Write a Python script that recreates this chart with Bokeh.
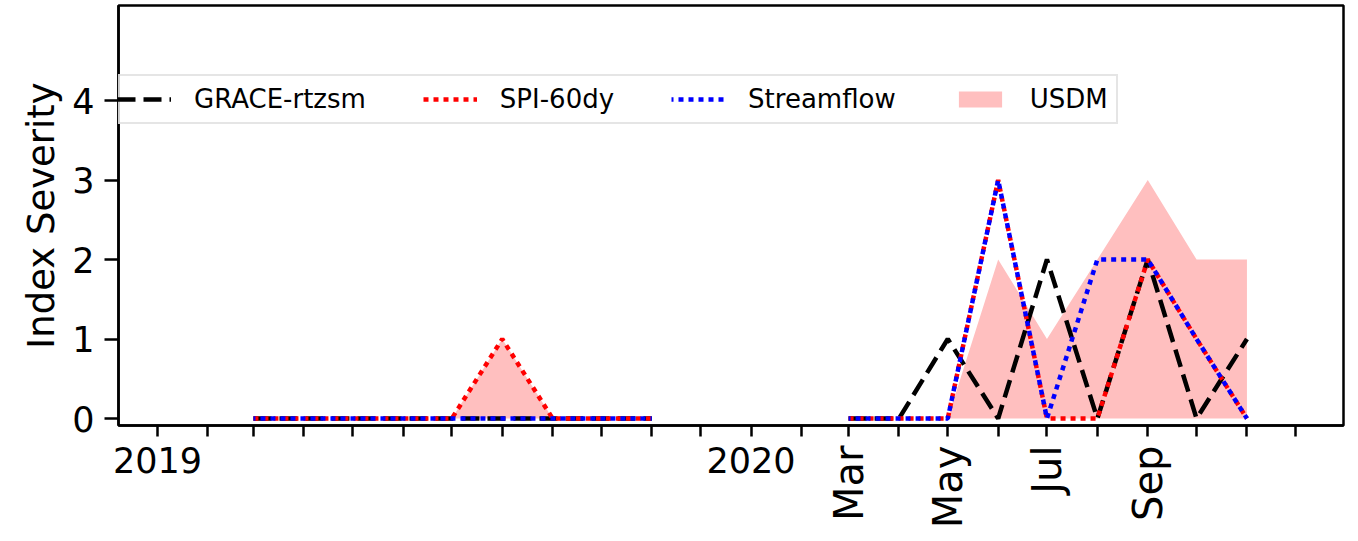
import numpy as np
import pandas as pd
from math import pi
from bokeh.plotting import figure
from bokeh.models import Range1d, FixedTicker, Legend, LegendItem, DatetimeAxis, ColumnDataSource
from bokeh.embed import file_html
from bokeh.resources import INLINE

nan = np.nan

# ---- data (monthly, Mar 2019 .. Nov 2020; Dec 2019 - Feb 2020 missing) ----
months = pd.date_range("2019-03-01", "2020-11-01", freq="MS")
grace_rtzsm = [0, 0, 0, 0, 0, 0, 0, 0, 0, nan, nan, nan, 0, 0, 1, 0, 2, 0, 2, 0, 1]
spi_60dy    = [0, 0, 0, 0, 0, 1, 0, 0, 0, nan, nan, nan, 0, 0, 0, 3, 0, 0, 2, 1, 0]
streamflow  = [0, 0, 0, 0, 0, 0, 0, 0, 0, nan, nan, nan, 0, 0, 0, 3, 0, 2, 2, 1, 0]
usdm        = [0, 0, 0, 0, 0, 1, 0, 0, 0, nan, nan, nan, 0, 0, 0, 2, 1, 2, 3, 2, 2]

tick_months = pd.date_range("2018-12-01", "2020-12-01", freq="MS")
year_labels = {"2019-01-01": "2019", "2020-01-01": "2020"}
month_labels = {"2020-03-01": "Mar", "2020-05-01": "May", "2020-07-01": "Jul", "2020-09-01": "Sep"}
y_ticks = [0, 1, 2, 3, 4]
series_names = ["GRACE-rtzsm", "SPI-60dy", "Streamflow", "USDM"]

FONT = "DejaVu Sans"

def ms(d):
    return float(pd.Timestamp(d).value // 10**6)

p = figure(width=1350, height=540, x_axis_type="datetime",
           x_range=Range1d(ms("2018-12-08"), ms("2020-12-30 09:00")),
           y_range=Range1d(-0.088, 5.195),
           output_backend="svg", toolbar_location=None,
           min_border_left=118, min_border_right=7, min_border_top=5, min_border_bottom=115)

src = ColumnDataSource(dict(x=months, g=grace_rtzsm, s=spi_60dy, f=streamflow, u=usdm))

# USDM filled area, split into contiguous segments
u_arr = np.array(usdm, dtype=float)
valid = ~np.isnan(u_arr)
area_renderers = []
i = 0
n = len(u_arr)
while i < n:
    if valid[i]:
        j = i
        while j < n and valid[j]:
            j += 1
        r = p.varea(x=months[i:j], y1=np.zeros(j - i), y2=u_arr[i:j],
                    fill_color="#ffbfbf", fill_alpha=1.0)
        area_renderers.append(r)
        i = j
    else:
        i += 1

r_g = p.line("x", "g", source=src, line_color="black", line_width=4.5, line_dash="18 8")
r_s = p.line("x", "s", source=src, line_color="red", line_width=4.5, line_dash="5 5")
r_f = p.line("x", "f", source=src, line_color="blue", line_width=4.5, line_dash="5 5",
             line_dash_offset=3)

legend = Legend(items=[LegendItem(label=series_names[0], renderers=[r_g]),
                       LegendItem(label=series_names[1], renderers=[r_s]),
                       LegendItem(label=series_names[2], renderers=[r_f]),
                       LegendItem(label=series_names[3], renderers=[area_renderers[0]])],
                orientation="horizontal", location=(-11, 301),
                label_text_font=FONT, label_text_font_size="26px", label_text_color="black",
                glyph_width=54, glyph_height=20, label_standoff=23, spacing=57,
                padding=8, margin=0, border_line_color="#cccccc", border_line_width=2,
                background_fill_color="white", background_fill_alpha=0.8)
p.add_layout(legend)

# axes styling
p.xgrid.visible = False
p.ygrid.visible = False
p.outline_line_color = "black"
p.outline_line_width = 2.5
p.outline_line_alpha = 1.0

tick_ms = [ms(t) for t in tick_months]

xa = p.xaxis[0]
xa.ticker = FixedTicker(ticks=tick_ms)
xa.major_label_overrides = {ms(t): year_labels.get(t.strftime("%Y-%m-%d"), "") for t in tick_months}
xa.major_tick_out = 11
xa.major_tick_in = 0
xa.minor_tick_out = 0
xa.minor_tick_in = 0
xa.major_tick_line_width = 2.5
xa.axis_line_width = 2.5
xa.major_label_text_font = FONT
xa.major_label_text_font_size = "35px"
xa.major_label_text_color = "black"
xa.major_label_standoff = 10

# second, label-only axis carrying the rotated month names
xa2 = DatetimeAxis(ticker=FixedTicker(ticks=tick_ms))
xa2.major_label_overrides = {ms(t): month_labels.get(t.strftime("%Y-%m-%d"), "") for t in tick_months}
xa2.major_label_orientation = pi / 2
xa2.axis_line_color = None
xa2.major_tick_line_color = None
xa2.minor_tick_line_color = None
xa2.major_tick_out = 0
xa2.major_tick_in = 0
xa2.minor_tick_out = 0
xa2.minor_tick_in = 0
xa2.major_label_text_font = FONT
xa2.major_label_text_font_size = "40px"
xa2.major_label_text_color = "black"
xa2.major_label_standoff = -30
p.add_layout(xa2, "below")

ya = p.yaxis[0]
ya.ticker = FixedTicker(ticks=y_ticks)
ya.major_tick_out = 14
ya.major_tick_in = 0
ya.minor_tick_out = 0
ya.minor_tick_in = 0
ya.major_tick_line_width = 2.5
ya.axis_line_width = 2.5
ya.major_label_text_font = FONT
ya.major_label_text_font_size = "35px"
ya.major_label_text_color = "black"
ya.major_label_standoff = 10
ya.axis_label = "Index Severity"
ya.axis_label_text_font = FONT
ya.axis_label_text_font_size = "37px"
ya.axis_label_text_font_style = "normal"
ya.axis_label_text_color = "black"
ya.axis_label_standoff = 6

open("out.html", "w").write(file_html(p, INLINE))
